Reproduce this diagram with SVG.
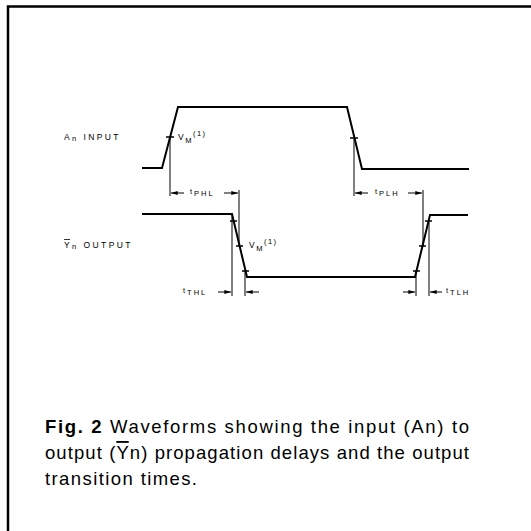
<svg xmlns="http://www.w3.org/2000/svg" width="531" height="531" viewBox="0 0 531 531">
<defs>
<marker id="ah" viewBox="0 0 10 6" refX="10" refY="3" markerWidth="7" markerHeight="4" orient="auto-start-reverse" markerUnits="userSpaceOnUse">
<path d="M0,0 L10,3 L0,6 Z" fill="#000"/>
</marker>
</defs>
<style>
.wave{fill:none;stroke:#000;stroke-width:2;stroke-linejoin:miter}
.dim{fill:none;stroke:#000;stroke-width:1}
.arr{fill:none;stroke:#000;stroke-width:1;marker-end:url(#ah)}
.tick{stroke:#000;stroke-width:1.5}
.lbl{font-family:"Liberation Sans",Arial,sans-serif;font-size:8.5px;letter-spacing:1.5px;fill:#000}
.sub{font-size:7.5px}
.dl{font-family:"Liberation Sans",Arial,sans-serif;font-size:7.5px;letter-spacing:2px;fill:#000}
.cap{font-family:"Liberation Sans",Arial,sans-serif;font-size:18.5px;fill:#000}
</style>
<rect width="531" height="531" fill="#fff"/>
<path d="M8,531 V6.5 H531" fill="none" stroke="#000" stroke-width="2.5"/>

<g id="input-wave">
<polyline class="wave" points="142,168 162,168 178,107 347,107 362,169 469,169"/>
<line class="tick" x1="166" y1="137" x2="174" y2="137"/>
<line class="tick" x1="350" y1="138" x2="358" y2="138"/>
</g>
<g id="output-wave">
<polyline class="wave" points="142,214 232,214 247,277 415,277 430,215 468,215"/>
<line class="tick" x1="230" y1="221" x2="237" y2="221"/>
<line class="tick" x1="236" y1="246" x2="243" y2="246"/>
<line class="tick" x1="242" y1="271" x2="249" y2="271"/>
<line class="tick" x1="413" y1="271" x2="420" y2="271"/>
<line class="tick" x1="419" y1="246" x2="426" y2="246"/>
<line class="tick" x1="425" y1="221" x2="432" y2="221"/>
</g>

<g id="labels">
<text class="lbl" x="64" y="140" textLength="56">A<tspan class="sub" dy="1">n</tspan><tspan dy="-1"> INPUT</tspan></text>
<text class="lbl" x="64" y="248" textLength="68">Y<tspan class="sub" dy="1">n</tspan><tspan dy="-1"> OUTPUT</tspan></text>
<line x1="64" y1="239.5" x2="70" y2="239.5" stroke="#000" stroke-width="0.8"/>
<text class="lbl" x="178" y="140" letter-spacing="1">V<tspan class="sub" dy="3">M</tspan><tspan class="sub" dy="-7">(1)</tspan></text>
<text class="lbl" x="249" y="248" letter-spacing="1">V<tspan class="sub" dy="3">M</tspan><tspan class="sub" dy="-7">(1)</tspan></text>
</g>

<g id="connectors">
<line class="dim" x1="170" y1="137" x2="170" y2="196"/>
<line class="arr" x1="184" y1="193" x2="171" y2="193"/>
<line class="arr" x1="224" y1="193" x2="238" y2="193"/>
<line class="dim" x1="239" y1="190" x2="239" y2="246"/>
<line class="dim" x1="232" y1="214" x2="232" y2="296"/>
<line class="arr" x1="218" y1="292" x2="231" y2="292"/>
<line class="dim" x1="245" y1="271" x2="245" y2="296"/>
<line class="arr" x1="259" y1="292" x2="246" y2="292"/>

<line class="dim" x1="354" y1="138" x2="354" y2="196"/>
<line class="arr" x1="368" y1="193" x2="355" y2="193"/>
<line class="arr" x1="408" y1="193" x2="422" y2="193"/>
<line class="dim" x1="423" y1="190" x2="423" y2="246"/>
<line class="dim" x1="416" y1="271" x2="416" y2="296"/>
<line class="arr" x1="403" y1="292" x2="415" y2="292"/>
<line class="dim" x1="429" y1="221" x2="429" y2="296"/>
<line class="arr" x1="442" y1="292" x2="430" y2="292"/>
</g>

<g id="dim-labels">
<text class="dl" x="190" y="194">t<tspan dy="1.5">PHL</tspan></text>
<text class="dl" x="375" y="194">t<tspan dy="2">PLH</tspan></text>
<text class="dl" x="183" y="293">t<tspan dy="2">THL</tspan></text>
<text class="dl" x="446" y="293">t<tspan dy="2">TLH</tspan></text>
</g>

<g id="caption">
<text class="cap" x="45" y="433" textLength="424" lengthAdjust="spacing"><tspan font-weight="bold">Fig. 2</tspan>  Waveforms showing the input (An) to</text>
<text class="cap" x="45" y="459" textLength="424" lengthAdjust="spacing">output (<tspan text-decoration="overline">Y</tspan>n) propagation delays and the output</text>
<text class="cap" x="45" y="485" textLength="152" lengthAdjust="spacing">transition times.</text>
</g>
</svg>
